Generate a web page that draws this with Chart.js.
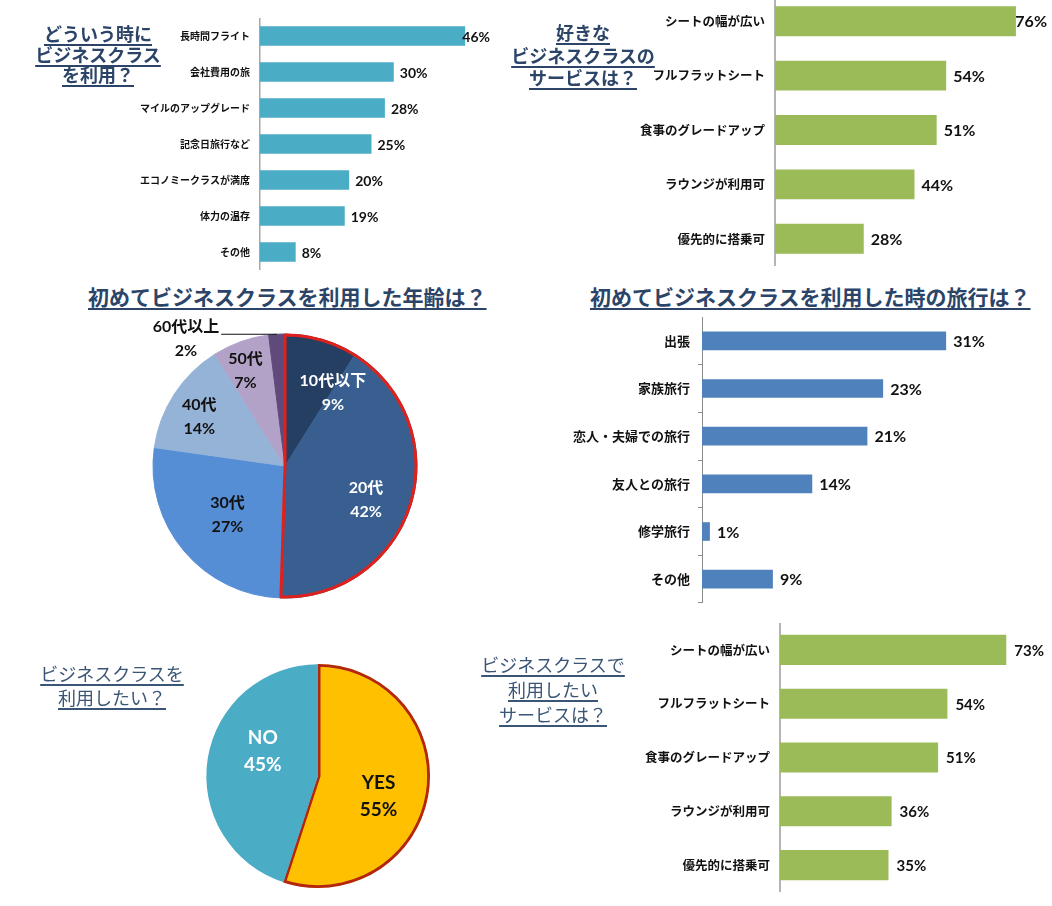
<!DOCTYPE html>
<html lang="ja">
<head>
<meta charset="utf-8">
<title>ビジネスクラス アンケート</title>
<script src="https://cdn.jsdelivr.net/npm/chart.js@4.4.1/dist/chart.umd.min.js"></script>
<style>
  html, body { margin: 0; padding: 0; background: #fff; }
  body { width: 1052px; height: 906px; position: relative; overflow: hidden;
         font-family: 'Noto Sans CJK JP', sans-serif; }
  canvas { position: absolute; }
  .title { position: absolute; text-align: center; white-space: nowrap; color: #2b4468; }
  .title span { text-decoration: underline; text-decoration-thickness: 1.5px; text-underline-offset: 3px; }
  .thin { color: #3a5575; font-weight: normal; }
</style>
</head>
<body>

<canvas id="reasonChart" width="430" height="252" style="left:60px;top:18px"></canvas>
<canvas id="serviceChart" width="472" height="272" style="left:575px;top:-6px"></canvas>
<canvas id="ageChart" width="300" height="300" style="left:135px;top:316px"></canvas>
<canvas id="tripChart" width="495" height="286" style="left:522px;top:317px"></canvas>
<canvas id="wantChart" width="260" height="260" style="left:188px;top:646px"></canvas>
<canvas id="wishChart" width="467" height="269" style="left:580px;top:623px"></canvas>

<div class="title" style="left:0;top:23px;width:196px;font-size:18px;line-height:20.5px;font-weight:bold">
  <span>どういう時に</span><br><span>ビジネスクラス</span><br><span>を利用？</span></div>
<div class="title" style="left:483px;top:21px;width:200px;font-size:18px;line-height:22.5px;font-weight:bold">
  <span>好きな</span><br><span>ビジネスクラスの</span><br><span>サービスは？</span></div>
<div class="title" style="left:88px;top:283px;font-size:21px;line-height:26px;font-weight:bold">
  <span>初めてビジネスクラスを利用した年齢は？</span></div>
<div class="title" style="left:590px;top:283px;font-size:21px;line-height:26px;font-weight:bold">
  <span>初めてビジネスクラスを利用した時の旅行は？</span></div>
<div class="title thin" style="left:12px;top:661px;width:200px;font-size:18px;line-height:24px">
  <span>ビジネスクラスを</span><br><span>利用したい？</span></div>
<div class="title thin" style="left:453px;top:652px;width:200px;font-size:18px;line-height:25px">
  <span>ビジネスクラスで</span><br><span>利用したい</span><br><span>サービスは？</span></div>

<script>
// どういう時にビジネスクラスを利用？
const reasonLabels = ['長時間フライト', '会社費用の旅', 'マイルのアップグレード', '記念日旅行など', 'エコノミークラスが満席', '体力の温存', 'その他'];
const reasonValues = [46, 30, 28, 25, 20, 19, 8];

// 好きなビジネスクラスのサービスは？
const serviceLabels = ['シートの幅が広い', 'フルフラットシート', '食事のグレードアップ', 'ラウンジが利用可', '優先的に搭乗可'];
const serviceValues = [76, 54, 51, 44, 28];

// 初めてビジネスクラスを利用した年齢は？
const ageLabels = ['10代以下', '20代', '30代', '40代', '50代', '60代以上'];
const ageValues = [9, 42, 27, 14, 7, 2];

// 初めてビジネスクラスを利用した時の旅行は？
const tripLabels = ['出張', '家族旅行', '恋人・夫婦での旅行', '友人との旅行', '修学旅行', 'その他'];
const tripValues = [31, 23, 21, 14, 1, 9];

// ビジネスクラスを利用したい？
const wantLabels = ['YES', 'NO'];
const wantValues = [55, 45];

// ビジネスクラスで利用したいサービスは？
const wishLabels = ['シートの幅が広い', 'フルフラットシート', '食事のグレードアップ', 'ラウンジが利用可', '優先的に搭乗可'];
const wishValues = [73, 54, 51, 36, 35];

Chart.defaults.font.family = "'Noto Sans CJK JP', sans-serif";
Chart.defaults.animation = false;

// draws "xx%" right of each bar, kept inside the plot area like Excel does
const barValueLabels = {
    id: 'barValueLabels',
    afterDatasetsDraw(chart, args, opts) {
        const ctx = chart.ctx;
        const values = chart.data.datasets[0].data;
        ctx.save();
        ctx.font = opts.font;
        ctx.fillStyle = '#111';
        ctx.textBaseline = 'middle';
        chart.getDatasetMeta(0).data.forEach((bar, i) => {
            const text = values[i] + '%';
            const w = ctx.measureText(text).width;
            const x = Math.min(bar.x + opts.gap, chart.chartArea.right - w);
            ctx.fillText(text, x, bar.y + 1);
        });
        ctx.restore();
    }
};

// two-line label (name + percent) for each slice
const pieLabels = {
    id: 'pieLabels',
    afterDatasetsDraw(chart, args, opts) {
        const ctx = chart.ctx;
        const labels = chart.data.labels;
        const values = chart.data.datasets[0].data;
        ctx.save();
        ctx.font = opts.font;
        ctx.textAlign = 'center';
        ctx.textBaseline = 'middle';
        chart.getDatasetMeta(0).data.forEach((arc, i) => {
            const mid = (arc.startAngle + arc.endAngle) / 2;
            const a = mid + opts.shift[i] * Math.PI / 180;
            const d = arc.outerRadius * opts.dist[i];
            const x = arc.x + Math.cos(a) * d;
            const y = arc.y + Math.sin(a) * d;
            ctx.fillStyle = opts.colors[i];
            ctx.fillText(labels[i], x, y - opts.lineHeight / 2);
            ctx.fillText(values[i] + '%', x, y + opts.lineHeight / 2);
            if (opts.leader === i) {
                const w = ctx.measureText(labels[i]).width;
                const ex = arc.x + Math.cos(mid) * arc.outerRadius;
                const ey = arc.y + Math.sin(mid) * arc.outerRadius;
                ctx.strokeStyle = '#111';
                ctx.lineWidth = 1;
                ctx.beginPath();
                ctx.moveTo(x + w / 2 + 2, ey);
                ctx.lineTo(ex, ey);
                ctx.stroke();
            }
        });
        ctx.restore();
    }
};

// red outline around a group of neighbouring slices
const groupOutline = {
    id: 'groupOutline',
    afterDatasetsDraw(chart, args, opts) {
        const meta = chart.getDatasetMeta(0);
        const first = meta.data[opts.from];
        const last = meta.data[opts.to];
        const ctx = chart.ctx;
        ctx.save();
        ctx.strokeStyle = opts.color;
        ctx.lineWidth = opts.width;
        ctx.lineJoin = 'round';
        ctx.beginPath();
        ctx.moveTo(first.x, first.y);
        ctx.arc(first.x, first.y, first.outerRadius - 1, first.startAngle, last.endAngle);
        ctx.closePath();
        ctx.stroke();
        ctx.restore();
    }
};

// horizontal bar chart; axisWidth fixes where the value axis line sits in the canvas
function drawBarChart(id, labels, values, s) {
    const ctx = document.getElementById(id).getContext('2d');
    return new Chart(ctx, {
        type: 'bar',
        data: {
            labels: labels,
            datasets: [{
                data: values,
                backgroundColor: s.color,
                categoryPercentage: 1,
                barPercentage: s.barPct
            }]
        },
        options: {
            indexAxis: 'y',
            responsive: false,
            layout: { padding: 0 },
            scales: {
                x: { display: false, min: 0, max: s.max },
                y: {
                    afterFit(scale) {
                        scale.width = s.axisWidth;
                        scale.paddingTop = 0;
                        scale.paddingBottom = 0;
                    },
                    border: { display: true, color: s.axisColor, width: s.axisLine },
                    grid: s.ticks
                        ? { display: true, offset: true, drawOnChartArea: false, drawTicks: true, tickLength: 4, color: s.axisColor }
                        : { display: false, drawTicks: false },
                    ticks: {
                        color: '#111',
                        padding: s.ticks ? 8 : 10,
                        font: { size: s.labelSize, weight: 'bold' }
                    }
                }
            },
            plugins: {
                legend: { display: false },
                tooltip: { enabled: false },
                barValueLabels: { font: s.valueFont, gap: s.gap }
            }
        },
        plugins: [barValueLabels]
    });
}

// plot widths / pixel-per-percent chosen to match the original layout
drawBarChart('reasonChart', reasonLabels, reasonValues, {
    color: '#4bacc6', barPct: 0.54, max: 230 / 4.46, axisWidth: 200,
    axisColor: '#a6a6a6', axisLine: 1.5, labelSize: 10,
    valueFont: "bold 14px Lato, 'Noto Sans CJK JP'", gap: 6
});
drawBarChart('serviceChart', serviceLabels, serviceValues, {
    color: '#9bbb59', barPct: 0.55, max: 272 / 3.17, axisWidth: 200,
    axisColor: '#b4b4b4', axisLine: 2, labelSize: 12.5,
    valueFont: "bold 16px Lato, 'Noto Sans CJK JP'", gap: 7
});
drawBarChart('tripChart', tripLabels, tripValues, {
    color: '#4f81bd', barPct: 0.39, max: 40, axisWidth: 180,
    axisColor: '#8c8c8c', axisLine: 1, labelSize: 13, ticks: true,
    valueFont: "bold 16px Lato, 'Noto Sans CJK JP'", gap: 7
});
drawBarChart('wishChart', wishLabels, wishValues, {
    color: '#9bbb59', barPct: 0.56, max: 267 / 3.1, axisWidth: 200,
    axisColor: '#b4b4b4', axisLine: 2, labelSize: 12.5,
    valueFont: "bold 15px Lato, 'Noto Sans CJK JP'", gap: 8
});

const ageColors = ['#243f62', '#385f90', '#558ed5', '#95b3d7', '#b3a2c7', '#604a7b'];
new Chart(document.getElementById('ageChart').getContext('2d'), {
    type: 'pie',
    data: {
        labels: ageLabels,
        datasets: [{
            data: ageValues,
            backgroundColor: ageColors,
            borderColor: ageColors, // same colour: hides anti-alias seams between slices
            borderWidth: 1
        }]
    },
    options: {
        responsive: false,
        radius: 132,
        plugins: {
            legend: { display: false },
            tooltip: { enabled: false },
            groupOutline: { from: 0, to: 1, color: '#e0211b', width: 3 },
            pieLabels: {
                font: "bold 16px Lato, 'Noto Sans CJK JP'",
                lineHeight: 24,
                colors: ['#fff', '#fff', '#111', '#111', '#111', '#111'],
                dist: [0.665, 0.667, 0.57, 0.75, 0.78, 1.22],
                shift: [17, 6, 0, -3, -3, -34.4],
                leader: 5
            }
        }
    },
    plugins: [groupOutline, pieLabels]
});

new Chart(document.getElementById('wantChart').getContext('2d'), {
    type: 'pie',
    data: {
        labels: wantLabels,
        datasets: [{
            data: wantValues,
            backgroundColor: ['#ffc000', '#4bacc6'],
            borderColor: ['#b3260f', '#4bacc6'],
            borderWidth: [2.5, 0],
            borderAlign: 'inner'
        }]
    },
    options: {
        responsive: false,
        radius: 112,
        plugins: {
            legend: { display: false },
            tooltip: { enabled: false },
            pieLabels: {
                font: "bold 19px Lato, 'Noto Sans CJK JP'",
                lineHeight: 27,
                colors: ['#111', '#fff'],
                dist: [0.57, 0.54],
                shift: [9.6, 15]
            }
        }
    },
    plugins: [pieLabels]
});
</script>
</body>
</html>
